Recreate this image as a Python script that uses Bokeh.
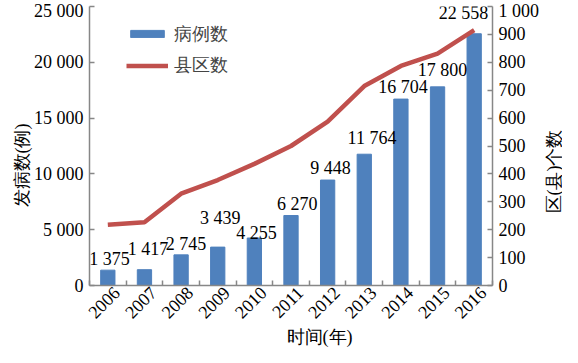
import math
from bokeh.plotting import figure
from bokeh.models import Range1d, LinearAxis, FixedTicker, Legend, ColumnDataSource, Label
from bokeh.core.properties import value
from bokeh.embed import file_html
from bokeh.resources import INLINE

# ---- data ----
years = [2006, 2007, 2008, 2009, 2010, 2011, 2012, 2013, 2014, 2015, 2016]
cases = [1375, 1417, 2745, 3439, 4255, 6270, 9448, 11764, 16704, 17800, 22558]
counties = [218, 227, 329, 378, 436, 500, 587, 715, 787, 831, 915]
case_labels = ["1 375", "1 417", "2 745", "3 439", "4 255", "6 270",
               "9 448", "11 764", "16 704", "17 800", "22 558"]
left_ticks = [0, 5000, 10000, 15000, 20000, 25000]
left_tick_labels = ["0", "5 000", "10 000", "15 000", "20 000", "25 000"]
right_ticks = [0, 100, 200, 300, 400, 500, 600, 700, 800, 900, 1000]
right_tick_labels = ["0", "100", "200", "300", "400", "500", "600", "700",
                     "800", "900", "1 000"]
series_names = ["病例数", "县区数"]
x_title = "时间(年)"
y_title_left = "发病数(例)"
y_title_right = "区(县)个数"

# ---- layout / style ----
label_dx = [1.7, 3.6, 5.0, 2.4, 2.2, 6.3, 2.9, 7.7, 2.1, 4.9, -10.6]
label_dy = [10.8, 20.4, 11.0, 28.9, 5.5, 11.4, 12.2, 16.1, 12.3, 16.7, 20.5]
year_label_shift = 0.24

FONT = "Liberation Serif"
FS = "18px"
AXIS_COLOR = "#878787"
BLUE = "#4F81BD"
RED = "#C0504D"

BL, BR, BT, BB = 89, 59, 6, 57
W, H = 562, 347
FW, FH = W - BL - BR, H - BT - BB

p = figure(width=W, height=H, output_backend="svg", toolbar_location=None,
           x_range=Range1d(years[0] - 0.5, years[-1] + 0.5),
           y_range=Range1d(left_ticks[0], left_ticks[-1]),
           min_border_left=BL, min_border_right=BR,
           min_border_top=BT, min_border_bottom=BB)
p.extra_y_ranges = {"r": Range1d(right_ticks[0], right_ticks[-1])}
p.xgrid.visible = False
p.ygrid.visible = False
p.outline_line_color = None
p.background_fill_color = "white"
p.border_fill_color = "white"

bars = p.vbar(x=years, top=cases, width=0.39, color=BLUE)
line = p.line(years, counties, y_range_name="r", line_width=4.5, color=RED)

src = ColumnDataSource(dict(x=years, y=cases, t=case_labels,
                            dx=label_dx, dy=[-d for d in label_dy]))
p.text(x="x", y="y", text="t", source=src, x_offset="dx", y_offset="dy",
       text_align="center", text_baseline="middle",
       text_font=value(FONT), text_font_size=value(FS), text_color="black")

def style_axis(ax):
    ax.axis_line_color = AXIS_COLOR
    ax.axis_line_width = 1.5
    ax.major_tick_line_color = AXIS_COLOR
    ax.minor_tick_line_color = AXIS_COLOR
    ax.major_tick_line_width = 1.5
    ax.minor_tick_line_width = 1.5
    ax.major_label_text_font = FONT
    ax.major_label_text_font_size = FS
    ax.major_label_text_color = "black"

ly = p.yaxis[0]
style_axis(ly)
ly.ticker = FixedTicker(ticks=left_ticks)
ly.major_label_overrides = dict(zip(left_ticks, left_tick_labels))
ly.major_tick_in = 5
ly.major_tick_out = 0
ly.minor_tick_in = 0
ly.minor_tick_out = 0
ly.major_label_standoff = 6

ry = LinearAxis(y_range_name="r", ticker=FixedTicker(ticks=right_ticks))
style_axis(ry)
ry.major_label_overrides = dict(zip(right_ticks, right_tick_labels))
ry.major_tick_in = 5
ry.major_tick_out = 0
ry.minor_tick_in = 0
ry.minor_tick_out = 0
ry.major_label_standoff = 6
p.add_layout(ry, "right")

bx = p.xaxis[0]
style_axis(bx)
bounds = [y - 0.5 for y in years] + [years[-1] + 0.5]
label_pos = [y + year_label_shift for y in years]
bx.ticker = FixedTicker(ticks=label_pos, minor_ticks=bounds)
bx.major_label_overrides = {lp: str(y) for lp, y in zip(label_pos, years)}
bx.major_tick_in = 0
bx.major_tick_out = 0
bx.minor_tick_in = 5
bx.minor_tick_out = 0
bx.major_label_orientation = math.pi / 4
bx.major_label_standoff = 4

def side_title(text, x, y, angle, place):
    lab = Label(x=x, y=y, x_units="screen", y_units="screen", text=text,
                angle=angle, text_align="center", text_baseline="middle",
                text_font=FONT, text_font_size=FS, text_color="black")
    p.add_layout(lab, place)

side_title(x_title, 230, 11, 0, "below")
side_title(y_title_left, 11, 120, math.pi / 2, "left")
side_title(y_title_right, 11, 114, math.pi / 2, "right")

def legend_at(name, r, y):
    lg = Legend(items=[(name, [r])], location=(37, y))
    lg.label_text_font = FONT
    lg.label_text_font_size = FS
    lg.glyph_width = 42
    lg.glyph_height = 9
    lg.label_height = 32
    lg.label_standoff = 6
    lg.padding = 0
    lg.margin = 0
    lg.background_fill_alpha = 0
    lg.border_line_color = None
    p.add_layout(lg, "center")

legend_at(series_names[0], bars, FH - (41.8 - BT) - 13)
legend_at(series_names[1], line, FH - (73 - BT) - 13)

open("out.html", "w").write(file_html(p, INLINE))
